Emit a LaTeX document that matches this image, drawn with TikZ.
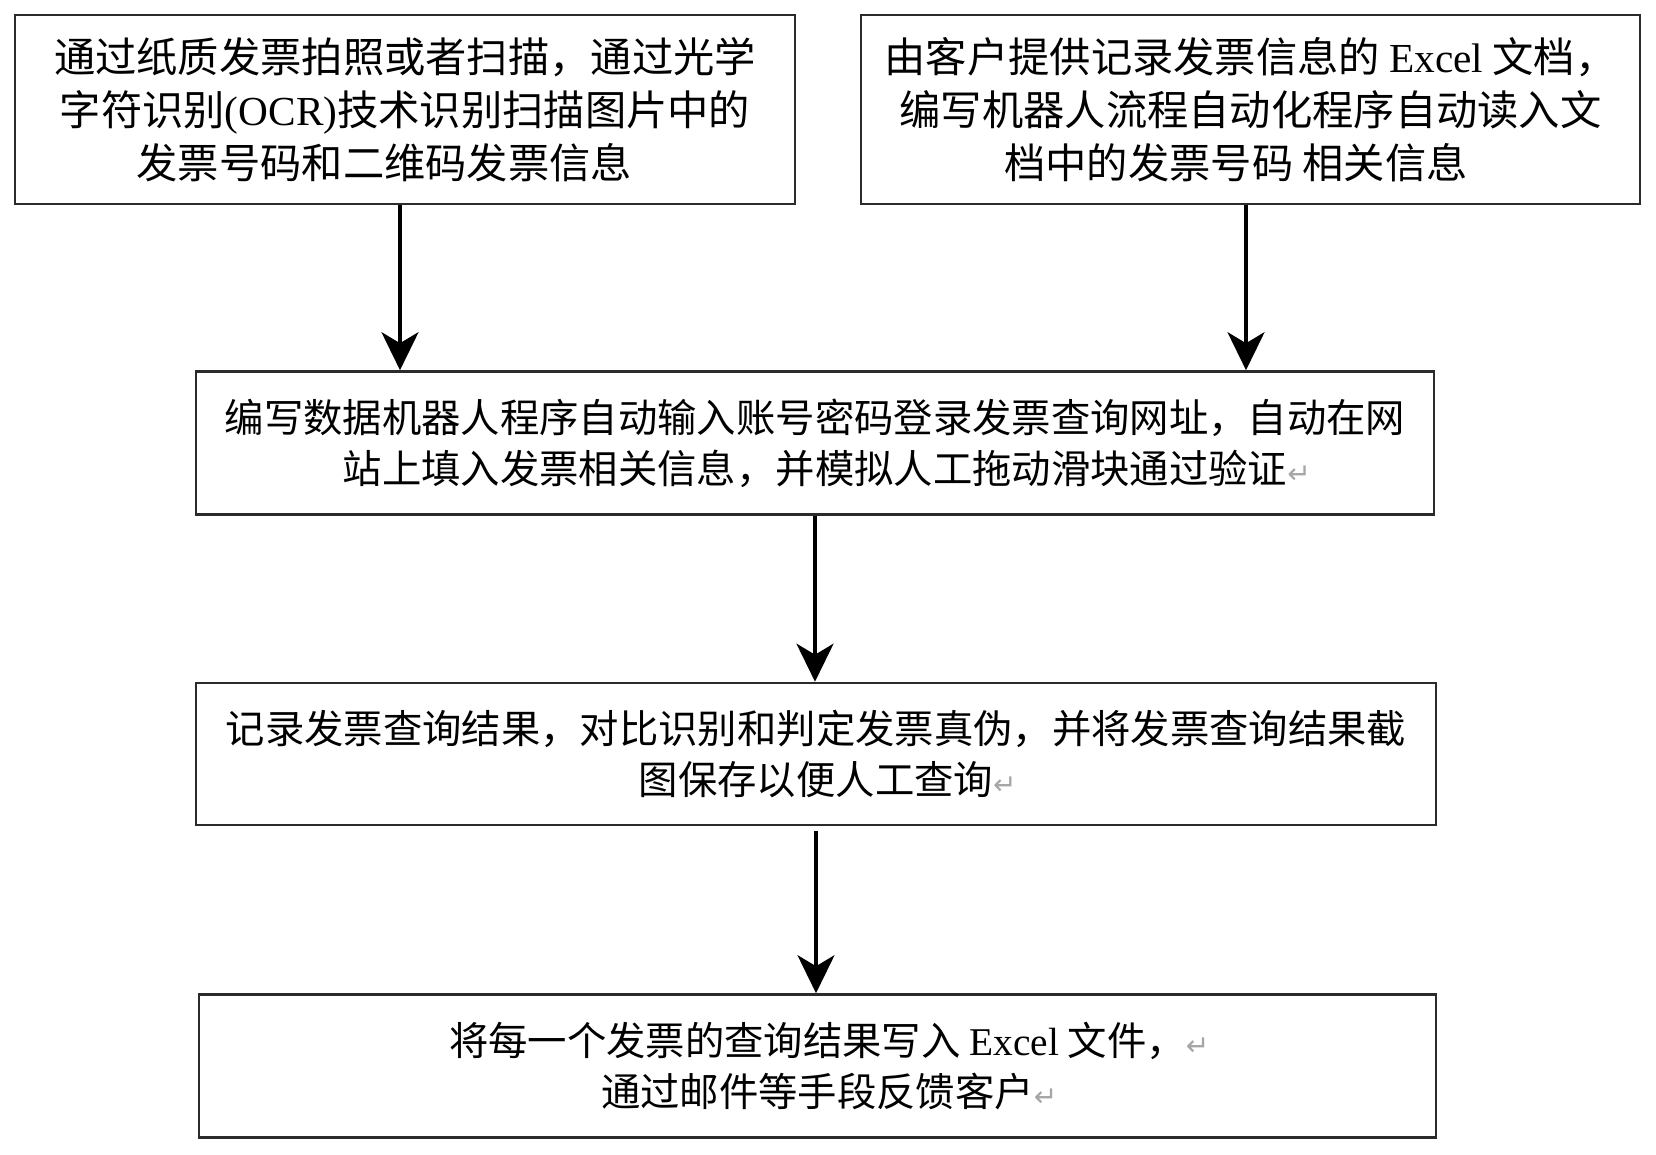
\documentclass[tikz,border=0pt]{standalone}
\usepackage{fontspec}
\usepackage{tikz}
\usepackage{xcolor}
\usetikzlibrary{arrows.meta, positioning, calc}
\setmainfont{Liberation Serif}
\newfontfamily\cjk{Noto Sans CJK SC}
\newfontfamily\symfont{DejaVu Sans}
\newcommand{\lat}[1]{{\rmfamily #1}}
\newcommand{\pmark}{\rlap{{\symfont\fontsize{16}{16}\selectfont\color{gray!70}↵}}}
\definecolor{frame}{HTML}{2B2B2B}

\begin{document}
\begin{tikzpicture}[
    x=0.02cm, y=-0.02cm,
    box/.style={draw=frame, line width=1.5pt, fill=white, inner sep=0pt, align=center,
                font=\cjk\fontsize{23.5}{30}\selectfont},
    wide/.style={box, minimum width=24.76cm, minimum height=2.86cm,
                 font=\cjk\fontsize{22.4}{29}\selectfont},
    arrow/.style={-{Stealth[length=7.6mm, width=7.4mm, inset=2.2mm]}, line width=2pt, black},
]
    \useasboundingbox[fill=white] (0,0) rectangle (1656,1155);

    % Sources
    \node[box, minimum width=15.6cm, minimum height=3.78cm] (scan) at (405,109.5)
        {通过纸质发票拍照或者扫描，通过光学\\字符识别\lat{(OCR)}技术识别扫描图片中的\\发票号码和二维码发票信息\hspace*{1em}};
    \node[box, minimum width=15.58cm, minimum height=3.78cm] (sheet) at (1250.5,109.5)
        {由客户提供记录发票信息的 \lat{Excel} 文档，\\编写机器人流程自动化程序自动读入文\\档中的发票号码 相关信息\hspace*{0.7em}};

    % Robot steps
    \node[wide] (query) at (815,443)
        {编写数据机器人程序自动输入账号密码登录发票查询网址，自动在网\\站上填入发票相关信息，并模拟人工拖动滑块通过验证\pmark};
    \node[wide, minimum width=24.8cm, minimum height=2.84cm] (record) at (816,754)
        {记录发票查询结果，对比识别和判定发票真伪，并将发票查询结果截\\图保存以便人工查询\pmark};
    \node[wide, minimum width=24.74cm] (report) at (817.5,1066)
        {将每一个发票的查询结果写入 \lat{Excel} 文件，\pmark\\通过邮件等手段反馈客户\pmark};

    % Arrows
    \draw[arrow] ([xshift=-0.1cm]scan.south) -- ([xshift=-0.1cm]scan.south |- query.north);
    \draw[arrow] ([xshift=-0.09cm]sheet.south) -- ([xshift=-0.09cm]sheet.south |- query.north);
    \draw[arrow] (query.south) -- (query.south |- record.north);
    \draw[arrow] ([yshift=-0.1cm]record.south) -- (record.south |- report.north);

\end{tikzpicture}
\end{document}
